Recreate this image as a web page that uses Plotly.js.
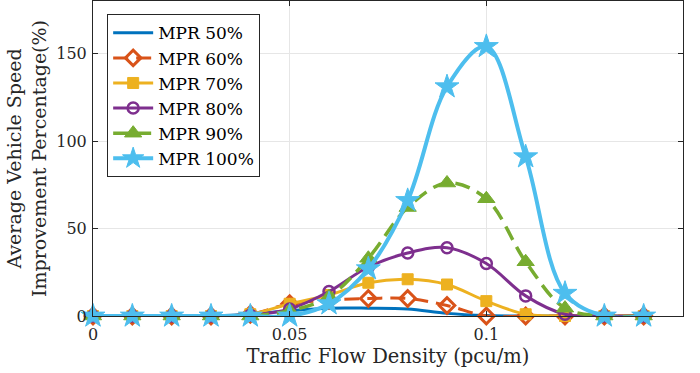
<!DOCTYPE html>
<html>
<head>
<meta charset="utf-8">
<script src="https://cdn.plot.ly/plotly-3.0.1.min.js"></script>
<style>html,body{margin:0;padding:0;background:#fff;}#chart{width:700px;height:373px;}</style>
</head>
<body>
<div id="chart"></div>
<script>
const density = [0, 0.01, 0.02, 0.03, 0.04, 0.05, 0.06, 0.07, 0.08, 0.09, 0.10, 0.11, 0.12, 0.13, 0.14];
const seriesNames = ["MPR 50%", "MPR 60%", "MPR 70%", "MPR 80%", "MPR 90%", "MPR 100%"];
const mpr50  = [0, 0, 0, 0, 1, 3, 4.5, 4.5, 4, 1.5, 0.3, 0, 0, 0, 0];
const mpr60  = [0, 0, 0, 0, 1, 7, 9, 10, 10, 6, 0, 0, 0, 0, 0];
const mpr70  = [0, 0, 0, 0, 1, 7, 12, 19, 21, 18, 8.5, 1, 0, 0, 0];
const mpr80  = [0, 0, 0, 0, 0.5, 4, 14, 28, 36, 39, 30, 11.5, 1, 0, 0];
const mpr90  = [0, 0, 0, 0, 0, 3, 11, 33, 62, 76, 67, 31, 4.5, 0, 0];
const mpr100 = [0, 0, 0, 0, 0, 0, 7, 27, 66, 131, 154, 91, 13, 0, 0];
const xTicks = [0, 0.05, 0.1, 0.15];
const xTickText = ["0", "0.05", "0.1", "0.15"];
const yTicks = [0, 50, 100, 150];

const values = [mpr50, mpr60, mpr70, mpr80, mpr90, mpr100];
const colors = ["#0072BD", "#D95319", "#EDB120", "#7E2F8E", "#77AC30", "#4DBEEE"];
const dashes = ["solid", "15px,8px", "solid", "solid", "15px,8px", "solid"];
const widths = [3, 3, 3, 3, 3.5, 4];
const symbols = ["circle", "diamond-open", "square", "circle-open", "triangle-up", "star"];
const msizes = [0, 12, 11, 11, 15, 18];
const mlw = [0, 3, 1, 2.5, 1, 1];

const traces = values.map((v, i) => ({
  x: density, y: v, name: seriesNames[i], type: "scatter", cliponaxis: false,
  mode: i === 0 ? "lines" : "lines+markers",
  line: {color: colors[i], width: widths[i], dash: dashes[i], shape: "spline", smoothing: 1},
  marker: {symbol: symbols[i], size: msizes[i], color: colors[i], line: {color: colors[i], width: mlw[i]}}
}));

const font = "DejaVu Serif, Liberation Serif, serif";
const layout = {
  width: 700, height: 373,
  margin: {l: 93, r: 17, t: 1, b: 57},
  paper_bgcolor: "#fff", plot_bgcolor: "#fff",
  font: {family: font, size: 17, color: "#262626"},
  showlegend: true,
  legend: {x: 0.024, y: 0.958, xanchor: "left", yanchor: "top",
    bgcolor: "#fff", bordercolor: "#262626", borderwidth: 1, itemwidth: 40,
    font: {family: font, size: 17, color: "#000"}},
  xaxis: {range: [0, 0.15], tickvals: xTicks, ticktext: xTickText,
    ticks: "inside", ticklen: 5, tickcolor: "#262626", ticklabelstandoff: 4,
    showline: true, linecolor: "#262626", linewidth: 1, mirror: "ticks",
    showgrid: true, gridcolor: "#e6e6e6", zeroline: false,
    tickfont: {family: font, size: 16, color: "#262626"},
    title: {text: "Traffic Flow Density (pcu/m)", standoff: 6, font: {family: font, size: 19.5, color: "#262626"}}},
  yaxis: {range: [0, 180], tickvals: yTicks,
    ticks: "inside", ticklen: 5, tickcolor: "#262626", ticklabelstandoff: 2,
    showline: true, linecolor: "#262626", linewidth: 1, mirror: "ticks",
    showgrid: true, gridcolor: "#e6e6e6", zeroline: false,
    tickfont: {family: font, size: 16, color: "#262626"},
    title: {text: "Average Vehicle Speed<br>Improvement Percentage(%)", standoff: 4, font: {family: font, size: 19, color: "#262626"}}}
};
Plotly.newPlot("chart", traces, layout, {staticPlot: true, displayModeBar: false});
</script>
</body>
</html>
